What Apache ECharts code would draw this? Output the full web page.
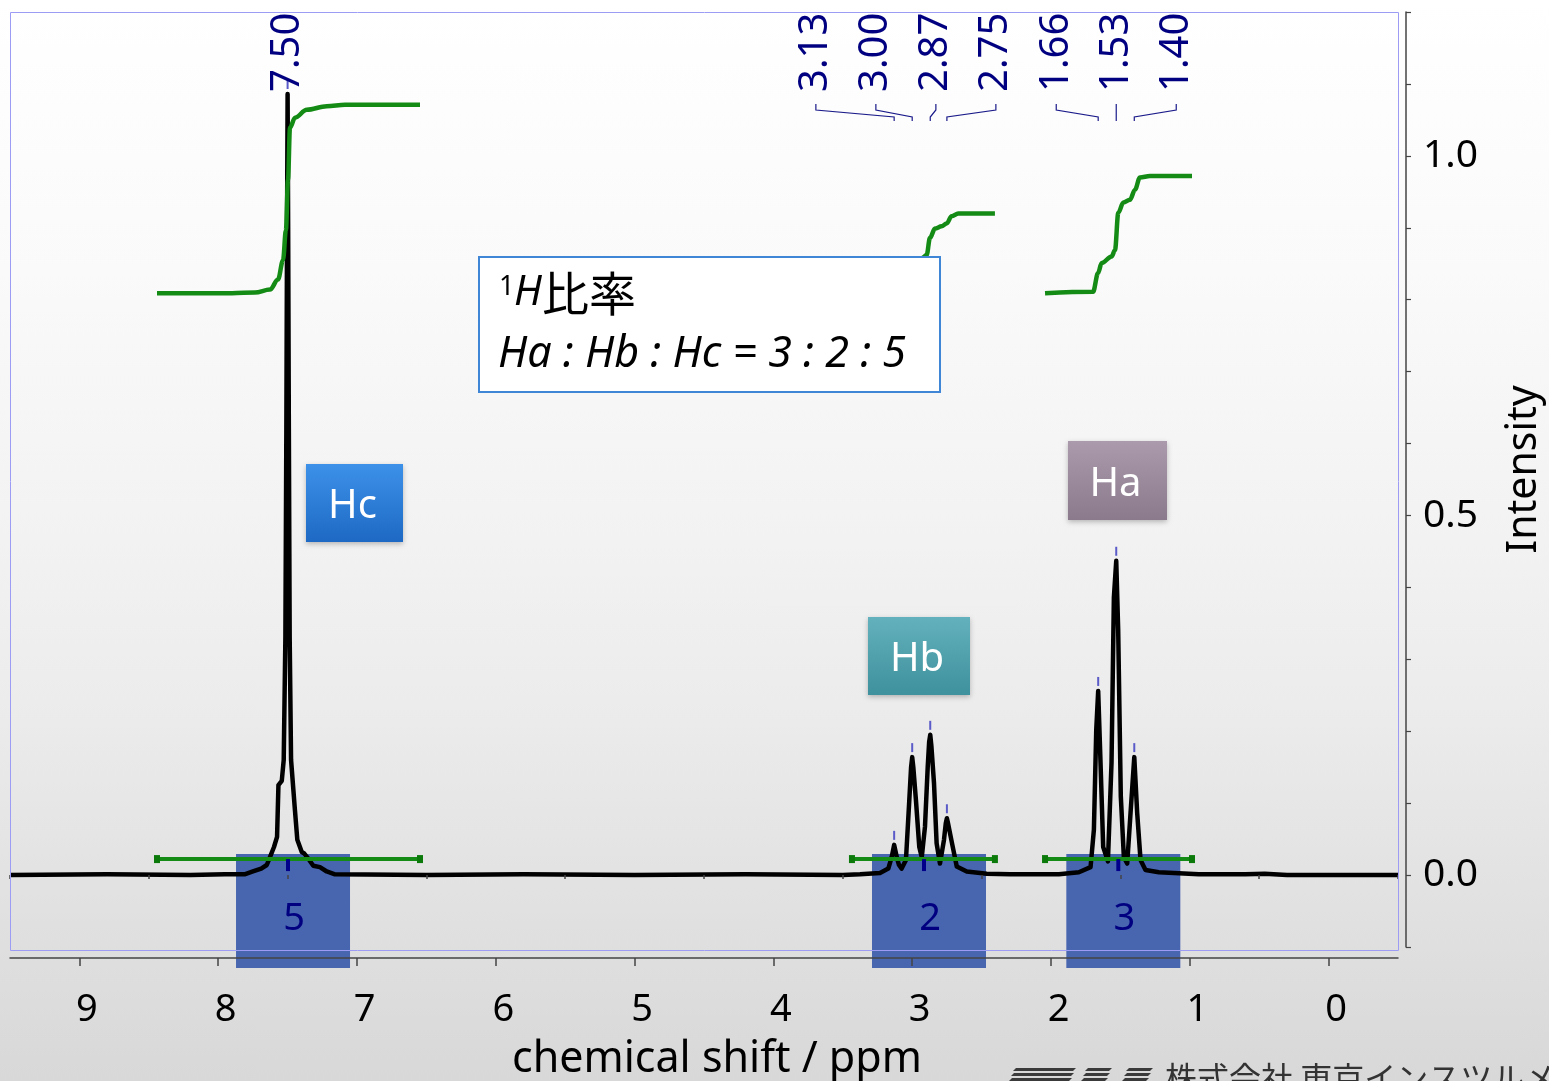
<!DOCTYPE html>
<html>
<head>
<meta charset="utf-8">
<script src="https://cdn.jsdelivr.net/npm/echarts@6/dist/echarts.min.js"></script>
<style>
  html, body { margin: 0; padding: 0; width: 1549px; height: 1081px; overflow: hidden;
    background: linear-gradient(to bottom, #ffffff 0%, #fafafa 25%, #f2f2f2 50%, #ececec 65%, #e2e2e2 82%, #d8d8d8 100%); }
  #chart { width: 1549px; height: 1081px; }
</style>
</head>
<body>
<div id="chart"></div>
<script>
// ---- 1H NMR spectrum: trace as [ppm, intensity] samples ----
const tracePpm = [9.50, 8.80, 8.20, 7.95, 7.81, 7.75, 7.69, 7.65, 7.627, 7.598, 7.576, 7.566, 7.542, 7.528, 7.516, 7.509, 7.504, 7.500, 7.496, 7.491, 7.485, 7.475, 7.447, 7.430, 7.398, 7.380, 7.367, 7.344, 7.315, 7.267, 7.218, 7.159, 6.50, 5.80, 5.00, 4.20, 3.50, 3.376, 3.232, 3.172, 3.148, 3.130, 3.110, 3.095, 3.076, 3.045, 3.021, 3.008, 3.000, 2.992, 2.973, 2.949, 2.931, 2.908, 2.888, 2.878, 2.870, 2.862, 2.843, 2.824, 2.800, 2.771, 2.758, 2.750, 2.742, 2.713, 2.679, 2.607, 2.463, 2.295, 1.943, 1.799, 1.715, 1.691, 1.674, 1.660, 1.643, 1.624, 1.590, 1.564, 1.547, 1.530, 1.516, 1.497, 1.475, 1.451, 1.427, 1.400, 1.379, 1.355, 1.319, 1.223, 0.935, 0.60, 0.46, 0.30, -0.50];
const traceIntensity = [0.000, 0.001, 0.000, 0.001, 0.001, 0.005, 0.009, 0.014, 0.025, 0.039, 0.053, 0.125, 0.131, 0.160, 0.330, 0.620, 0.900, 1.086, 0.900, 0.620, 0.330, 0.160, 0.090, 0.049, 0.032, 0.030, 0.031, 0.021, 0.013, 0.011, 0.005, 0.001, 0.000, 0.001, 0.000, 0.001, 0.000, 0.001, 0.003, 0.009, 0.025, 0.042, 0.024, 0.014, 0.009, 0.021, 0.104, 0.150, 0.164, 0.150, 0.104, 0.039, 0.025, 0.067, 0.151, 0.185, 0.195, 0.180, 0.128, 0.044, 0.016, 0.049, 0.072, 0.079, 0.072, 0.044, 0.012, 0.005, 0.002, 0.001, 0.001, 0.004, 0.011, 0.063, 0.202, 0.256, 0.155, 0.039, 0.019, 0.156, 0.386, 0.437, 0.341, 0.109, 0.025, 0.016, 0.086, 0.164, 0.086, 0.021, 0.007, 0.004, 0.001, 0.001, 0.002, 0.000, 0.000];

// ---- picked peaks ----
const peakPpm   = [7.50, 3.13, 3.00, 2.87, 2.75, 1.66, 1.53, 1.40];
const peakGroup = ['Hc', 'Hb', 'Hb', 'Hb', 'Hb', 'Ha', 'Ha', 'Ha'];

// ---- integrals ----
const integralName   = ['Hc', 'Hb', 'Ha'];
const integralFrom   = [8.441, 3.434, 2.043];
const integralTo     = [6.546, 2.404, 0.984];
const integralCenter = [7.497, 2.915, 1.515];
const integralValue  = [5, 2, 3];

// running integral curves
const intHcPpm = [8.441, 7.90, 7.735, 7.627, 7.569, 7.533, 7.512, 7.497, 7.483, 7.447, 7.362, 7.218, 7.086, 6.546];
const intHcVal = [0.809, 0.809, 0.810, 0.814, 0.828, 0.855, 0.897, 0.967, 1.039, 1.053, 1.064, 1.069, 1.071, 1.071];
const intHbPpm = [3.434, 3.20, 3.15, 3.12, 3.08, 3.03, 3.00, 2.97, 2.93, 2.896, 2.872, 2.836, 2.788, 2.752, 2.716, 2.668, 2.404];
const intHbVal = [0.809, 0.809, 0.812, 0.818, 0.820, 0.826, 0.840, 0.852, 0.858, 0.862, 0.886, 0.899, 0.902, 0.906, 0.916, 0.920, 0.920];
const intHaPpm = [2.043, 1.697, 1.661, 1.635, 1.563, 1.539, 1.515, 1.479, 1.431, 1.395, 1.359, 1.287, 0.984];
const intHaVal = [0.809, 0.811, 0.837, 0.851, 0.860, 0.869, 0.921, 0.935, 0.939, 0.953, 0.970, 0.972, 0.972];

// ---- axis ticks ----
const xMajorTicks = [0, 1, 2, 3, 4, 5, 6, 7, 8, 9];
const xMinorTicks = [-0.5, 0.5, 1.5, 2.5, 3.5, 4.5, 5.5, 6.5, 7.5, 8.5, 9.5];
const yTicks  = [-0.1, 0, 0.1, 0.2, 0.3, 0.4, 0.5, 0.6, 0.7, 0.8, 0.9, 1.0, 1.1, 1.2];
const yLabels = [0, 0.5, 1.0];

// ---- look & layout ----
const FONT = '"Noto Sans", "Open Sans", sans-serif';
const CJK = '"Noto Sans CJK JP", "Noto Sans", sans-serif';
const NAVY = '#000080';
const GREEN = '#148b14';
const LABEL_BASE_Y = 92;     // bottom end of the rotated shift labels
const LABEL_SLOT = 60;       // spacing of labels inside a multiplet
const LABEL_NUDGE = { Hb: -15 };

const zip = (a, b) => a.map((v, i) => [v, b[i]]);
const peakIntensity = peakPpm.map(p => traceIntensity[tracePpm.indexOf(p)]);

const chart = echarts.init(document.getElementById('chart'), null, { renderer: 'canvas' });

function renderPeak(params, api) {
  const i = params.dataIndex;
  const p = api.coord([peakPpm[i], peakIntensity[i]]);
  const members = peakGroup.map((g, j) => g === peakGroup[i] ? j : -1).filter(j => j >= 0);
  const n = members.length, k = members.indexOf(i);
  const centerX = members.reduce((s, j) => s + api.coord([peakPpm[j], 0])[0], 0) / n;
  const slotX = n === 1 ? p[0] : centerX + (k - (n - 1) / 2) * LABEL_SLOT + (LABEL_NUDGE[peakGroup[i]] || 0);
  const children = [
    { type: 'line', shape: { x1: p[0], y1: p[1] - 5, x2: p[0], y2: p[1] - 14 },
      style: { stroke: '#5a5ac8', lineWidth: 2 } },
    { type: 'text', x: slotX, y: LABEL_BASE_Y, rotation: Math.PI / 2,
      style: { text: peakPpm[i].toFixed(2), fill: NAVY, font: '40px ' + FONT, align: 'left', verticalAlign: 'middle' } }
  ];
  if (n > 1) {
    children.push({ type: 'polyline',
      shape: { points: [[slotX, 104], [slotX, 110], [p[0], 117], [p[0], 121]] },
      style: { stroke: '#1a1a8a', lineWidth: 1.2, fill: null } });
  }
  return { type: 'group', children };
}

function renderIntegralBox(params, api) {
  const i = params.dataIndex;
  const base = api.coord([integralCenter[i], 0]);
  const cx = base[0] + 5;
  return { type: 'group', children: [
    { type: 'rect', shape: { x: cx - 57, y: base[1] - 21, width: 114, height: 114 },
      style: { fill: '#4866b0' } },
    { type: 'text', x: cx + 1, y: base[1] + 44,
      style: { text: String(integralValue[i]), fill: NAVY, font: '38px ' + FONT, align: 'center', verticalAlign: 'middle' } }
  ] };
}

function renderIntegralBar(params, api) {
  const i = params.dataIndex;
  const a = api.coord([integralFrom[i], 0]);
  const b = api.coord([integralTo[i], 0]);
  const c = api.coord([integralCenter[i], 0]);
  const y = a[1] - 16;
  return { type: 'group', children: [
    { type: 'line', shape: { x1: a[0], y1: y, x2: b[0], y2: y }, style: { stroke: GREEN, lineWidth: 4 } },
    { type: 'rect', shape: { x: a[0] - 3, y: y - 4, width: 6, height: 8 }, style: { fill: '#0b7a0b' } },
    { type: 'rect', shape: { x: b[0] - 3, y: y - 4, width: 6, height: 8 }, style: { fill: '#0b7a0b' } },
    { type: 'rect', shape: { x: c[0] - 2, y: y, width: 4, height: 12 }, style: { fill: '#00008b' } }
  ] };
}

const integralLine = (ppm, val) => ({
  type: 'line', data: zip(ppm, val), showSymbol: false, symbol: 'none', z: 3,
  smooth: 0.35, smoothMonotone: 'x', clip: false,
  lineStyle: { color: GREEN, width: 4.5 }, silent: true
});

function tag(x, y, w, h, label, top, bottom) {
  return { type: 'group', z: 40, children: [
    { type: 'rect', shape: { x, y, width: w, height: h },
      style: { fill: new echarts.graphic.LinearGradient(0, 0, 0, 1, [{ offset: 0, color: top }, { offset: 1, color: bottom }]),
        shadowBlur: 5, shadowOffsetY: 2, shadowColor: 'rgba(0,0,0,0.25)' } },
    { type: 'text', x: x + w / 2 - 2, y: y + h / 2 + 4,
      style: { text: label, fill: '#ffffff', font: '40px ' + FONT, align: 'center', verticalAlign: 'middle' } }
  ] };
}

const stripe = (x1, x2, y, t) => ({ type: 'polygon', z: 40,
  shape: { points: [[x1 + 3, y], [x2 + 3, y], [x2, y + t], [x1, y + t]] }, style: { fill: '#3a3a3a' } });

const option = {
  backgroundColor: 'transparent',
  animation: false,
  grid: { left: 10, right: 151, top: 12, bottom: 134, show: false, containLabel: false, outerBoundsMode: 'none' },
  xAxis: [
    {
      type: 'value', min: -0.5, max: 9.5, inverse: true, position: 'bottom', offset: 11, z: 10,
      axisLine: { show: true, onZero: false, lineStyle: { color: '#444', width: 1.5 } },
      axisTick: { show: true, customValues: xMajorTicks, length: 8, lineStyle: { color: '#444', width: 1.5 } },
      axisLabel: { customValues: xMajorTicks, margin: 33, fontSize: 38, color: '#000', fontFamily: FONT, padding: [0, 0, 0, 15] },
      splitLine: { show: false },
      name: 'chemical shift / ppm', nameLocation: 'middle', nameGap: 80,
      nameTextStyle: { fontSize: 43, color: '#000', fontFamily: FONT, padding: [0, 0, 0, 26] }
    },
    {
      type: 'value', min: -0.5, max: 9.5, inverse: true, position: 'bottom', offset: 11, z: 10,
      axisLine: { show: false },
      axisTick: { show: true, customValues: xMinorTicks, length: 4, lineStyle: { color: '#444', width: 1.5 } },
      axisLabel: { show: false }, splitLine: { show: false }
    }
  ],
  yAxis: {
    type: 'value', min: -0.1, max: 1.2, position: 'right', offset: 8,
    axisLine: { show: true, onZero: false, lineStyle: { color: '#444', width: 1.5 } },
    axisTick: { show: true, customValues: yTicks, length: 5, lineStyle: { color: '#444', width: 1.2 } },
    axisLabel: { customValues: yLabels, formatter: v => v.toFixed(1), margin: 17, fontSize: 39, color: '#000', fontFamily: FONT },
    splitLine: { show: false },
    name: 'Intensity', nameLocation: 'middle', nameRotate: 90, nameGap: 98,
    nameTextStyle: { fontSize: 41, color: '#000', fontFamily: FONT, padding: [0, 0, 0, 20] }
  },
  series: [
    { type: 'custom', name: 'integral value', renderItem: renderIntegralBox, clip: false, z: 1,
      data: integralCenter.map(v => [v, 0]), silent: true },
    { type: 'line', name: 'spectrum', data: zip(tracePpm, traceIntensity), showSymbol: false, symbol: 'none',
      lineStyle: { color: '#000', width: 4.5, join: 'round' }, z: 3, silent: true },
    integralLine(intHcPpm, intHcVal),
    integralLine(intHbPpm, intHbVal),
    integralLine(intHaPpm, intHaVal),
    { type: 'custom', name: 'integral range', renderItem: renderIntegralBar, clip: false, z: 4,
      data: integralFrom.map(v => [v, 0]), silent: true },
    { type: 'custom', name: 'peaks', renderItem: renderPeak, clip: false, z: 5,
      data: peakPpm.map((p, i) => [p, peakIntensity[i]]), silent: true }
  ],
  graphic: [
    // plot frame
    { type: 'rect', z: 30, silent: true, shape: { x: 10.5, y: 12.5, width: 1388, height: 938 },
      style: { fill: null, stroke: '#9c9cf4', lineWidth: 1 } },
    // ratio note
    { type: 'rect', z: 35, shape: { x: 479, y: 257, width: 461, height: 135 },
      style: { fill: '#ffffff', stroke: '#3f86d6', lineWidth: 2 } },
    { type: 'text', z: 36, x: 499, y: 274,
      style: { text: '1', fill: '#000', font: '27px ' + FONT, align: 'left', verticalAlign: 'top' } },
    { type: 'text', z: 36, x: 514, y: 293,
      style: { text: '{i|H}{c|比率}', align: 'left', verticalAlign: 'middle',
        rich: { i: { fontSize: 41, fontStyle: 'italic', fontFamily: FONT, fill: '#000' },
                c: { fontSize: 47, fontFamily: CJK, fill: '#000' } } } },
    { type: 'text', z: 36, x: 498, y: 355,
      style: { text: 'Ha : Hb : Hc = 3 : 2 : 5', fill: '#000', font: 'italic 43px ' + FONT, align: 'left', verticalAlign: 'middle' } },
    // proton tags
    tag(306, 464, 97, 78, 'Hc', '#3d91e8', '#1d69c4'),
    tag(868, 617, 102, 78, 'Hb', '#63b1bc', '#3e919d'),
    tag(1068, 441, 99, 79, 'Ha', '#aa9aac', '#8a7a8c'),
    // company mark
    stripe(1013, 1073, 1068, 3), stripe(1011, 1071, 1073, 3), stripe(1009, 1069, 1078, 3),
    stripe(1085, 1109, 1068, 3), stripe(1083, 1107, 1073, 3), stripe(1081, 1105, 1078, 3),
    stripe(1126, 1150, 1068, 3), stripe(1124, 1148, 1073, 3), stripe(1122, 1146, 1078, 3),
    { type: 'text', z: 40, x: 1165, y: 1062,
      style: { text: '株式会社 東京インスツルメンツ', fill: '#333', font: '32px ' + CJK, align: 'left', verticalAlign: 'top' } }
  ]
};

chart.setOption(option);
</script>
</body>
</html>
